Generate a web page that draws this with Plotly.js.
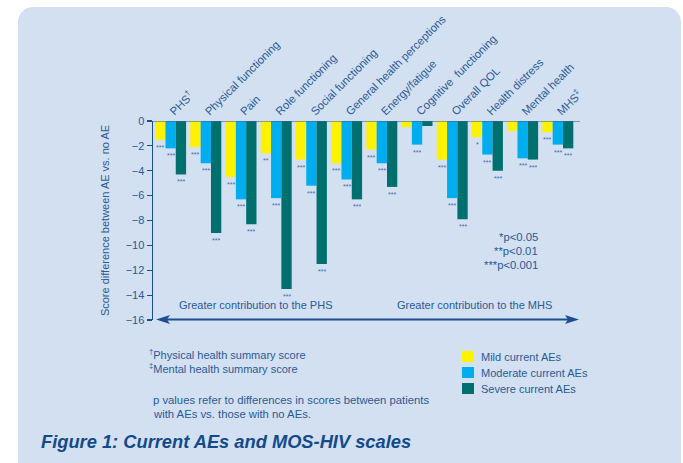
<!DOCTYPE html>
<html>
<head>
<meta charset="utf-8">
<script src="https://cdn.plot.ly/plotly-3.0.1.min.js"></script>
<style>
  html, body { margin: 0; padding: 0; background: #ffffff; }
  #wrap { position: relative; width: 683px; height: 463px; overflow: hidden; }
  #bg { position: absolute; left: 18px; top: 7px; width: 663px; height: 470px;
        background: #d3e0f1; border-radius: 15px; }
  #chart { position: absolute; left: 0; top: 0; width: 683px; height: 463px; }
</style>
</head>
<body>
<div id="wrap">
  <div id="bg"></div>
  <div id="chart"></div>
</div>
<script>
// ---- data ----
const categories = ["PHS<sup>†</sup>", "Physical functioning", "Pain", "Role functioning",
  "Social functioning", "General health perceptions", "Energy/fatigue",
  "Cognitive  functioning", "Overall QOL", "Health distress", "Mental health", "MHS<sup>‡</sup>"];
const seriesNames = ["Mild current AEs", "Moderate current AEs", "Severe current AEs"];
const mild     = [-1.5, -2.1, -4.5, -2.6, -3.1, -3.4, -2.3, -0.5, -3.1, -1.3, -0.8, -0.9];
const moderate = [-2.2, -3.4, -6.3, -6.2, -5.2, -4.7, -3.4, -1.9, -6.2, -2.7, -3.0, -1.9];
const severe   = [-4.3, -9.0, -8.3, -13.5, -11.5, -6.3, -5.3, -0.4, -7.9, -4.0, -3.1, -2.2];
const sigMild     = ["***", "***", "***", "**", "***", "***", "***", "", "***", "*", "", "***"];
const sigModerate = ["***", "***", "***", "***", "***", "***", "***", "***", "***", "***", "***", "***"];
const sigSevere   = ["***", "***", "***", "***", "***", "***", "***", "", "***", "***", "***", "***"];
const yTicks = [0, -2, -4, -6, -8, -10, -12, -14, -16];
const footnotes = ["<sup>†</sup>Physical health summary score", "<sup>‡</sup>Mental health summary score"];
const pNote = ["p values refer to differences in scores between patients", "with AEs vs. those with no AEs."];
const pLegend = ["*p<0.05", "**p<0.01", "***p<0.001"];
const zoneLabels = ["Greater contribution to the PHS", "Greater contribution to the MHS"];
const figTitle = "Figure 1: Current AEs and MOS-HIV scales";

// ---- styling ----
const colors = ["#fff200", "#00aeef", "#00706e"];
const txt = "#2a5a98";
const dark = "#1d4f8f";
const FONT = "Liberation Sans, Arial, sans-serif";

const W = 683, H = 463, ML = 153, MR = 103, MT = 121, MB = 143;
const PW = W - ML - MR, PH = H - MT - MB;
const px = v => (v - ML) / PW;
const py = v => (H - MB - v) / PH;
const XRANGE = [-0.5, 11.63];
const BARGAP = 0.12;

const vals = [mild, moderate, severe];
const sigs = [sigMild, sigModerate, sigSevere];
const xIdx = categories.map((c, i) => i);

const traces = vals.map((v, k) => ({
  type: "bar",
  name: seriesNames[k],
  x: xIdx,
  y: v,
  marker: { color: colors[k], line: { width: 0 } },
  hoverinfo: "skip",
  showlegend: false
}));

const annotations = [];
const shapes = [];

// significance marks under each bar (offset within the group by bar width)
const catPx = PW / (XRANGE[1] - XRANGE[0]);
const barPx = catPx * (1 - BARGAP) / 3;
sigs.forEach((arr, k) => arr.forEach((s, i) => {
  if (!s) return;
  annotations.push({
    xref: "x", yref: "y", x: xIdx[i], y: vals[k][i], xshift: (k - 1) * barPx, yshift: -2,
    xanchor: "center", yanchor: "top", showarrow: false, text: s,
    font: { size: 7, color: "#3d6fae", family: FONT }
  });
}));

footnotes.forEach((t, i) => annotations.push({
  xref: "paper", yref: "paper", x: px(147), y: py(354 + i * 13.5),
  xanchor: "left", yanchor: "middle", showarrow: false, text: t,
  font: { size: 11, color: txt, family: FONT }
}));
pNote.forEach((t, i) => annotations.push({
  xref: "paper", yref: "paper", x: px(151), y: py(400 + i * 13.5),
  xanchor: "left", yanchor: "middle", showarrow: false, text: t,
  font: { size: 11.3, color: txt, family: FONT }
}));
pLegend.forEach((t, i) => annotations.push({
  xref: "paper", yref: "paper", x: px(540), y: py(237 + i * 14),
  xanchor: "right", yanchor: "middle", showarrow: false, text: t,
  font: { size: 11.3, color: txt, family: FONT }
}));
// custom legend (swatches + names)
seriesNames.forEach((n, k) => {
  const top = 351 + k * 16;
  shapes.push({
    type: "rect", xref: "paper", yref: "paper", x0: px(462), x1: px(474), y0: py(top + 11), y1: py(top),
    fillcolor: colors[k], line: { width: 0 }, layer: "above"
  });
  annotations.push({
    xref: "paper", yref: "paper", x: px(479), y: py(top + 5.5), xanchor: "left", yanchor: "middle",
    showarrow: false, text: n, font: { size: 11, color: txt, family: FONT }
  });
});
annotations.push({
  xref: "paper", yref: "paper", x: px(255), y: py(305), xanchor: "center", yanchor: "middle",
  showarrow: false, text: zoneLabels[0], font: { size: 11, color: txt, family: FONT }
});
annotations.push({
  xref: "paper", yref: "paper", x: px(474), y: py(305), xanchor: "center", yanchor: "middle",
  showarrow: false, text: zoneLabels[1], font: { size: 11, color: txt, family: FONT }
});
// double arrow (line + two arrowheads)
const ay = 319.5;
shapes.push({
  type: "line", xref: "paper", yref: "paper", x0: px(166), x1: px(569), y0: py(ay), y1: py(ay),
  line: { color: dark, width: 2 }, layer: "above"
});
shapes.push({
  type: "path", xref: "paper", yref: "paper", layer: "above",
  path: `M${px(156)},${py(ay)} L${px(170)},${py(ay - 4.5)} L${px(167)},${py(ay)} L${px(170)},${py(ay + 4.5)} Z`,
  fillcolor: dark, line: { width: 0 }
});
shapes.push({
  type: "path", xref: "paper", yref: "paper", layer: "above",
  path: `M${px(579)},${py(ay)} L${px(565)},${py(ay - 4.5)} L${px(568)},${py(ay)} L${px(565)},${py(ay + 4.5)} Z`,
  fillcolor: dark, line: { width: 0 }
});
annotations.push({
  xref: "paper", yref: "paper", x: px(39), y: py(441), xanchor: "left", yanchor: "middle",
  showarrow: false, text: "<b><i>" + figTitle + "</i></b>",
  font: { size: 18.3, color: "#124a8c", family: FONT }
});
shapes.push({
  type: "line", xref: "paper", yref: "y", x0: 0, x1: px(580), y0: 0, y1: 0, layer: "above",
  line: { color: "rgba(55,95,150,0.55)", width: 2 }
});

const layout = {
  width: W, height: H,
  margin: { l: ML, r: MR, t: MT, b: MB, pad: 0, autoexpand: false },
  paper_bgcolor: "rgba(0,0,0,0)",
  plot_bgcolor: "rgba(0,0,0,0)",
  barmode: "group",
  bargap: BARGAP,
  bargroupgap: 0,
  font: { family: FONT, color: txt, size: 11 },
  showlegend: false,
  xaxis: {
    side: "top", range: XRANGE, showgrid: false, zeroline: false, showline: false,
    ticks: "", tickmode: "array", tickvals: xIdx, ticktext: categories, tickangle: -45,
    tickfont: { size: 11.3, color: txt, family: FONT }, fixedrange: true, automargin: false
  },
  yaxis: {
    range: [-16, 0], showgrid: false, zeroline: false, showline: true, linecolor: dark, linewidth: 1.5,
    ticks: "outside", ticklen: 5, tickwidth: 1.2, tickcolor: dark,
    tickmode: "array", tickvals: yTicks, ticktext: yTicks.map(v => v === 0 ? "0" : "−" + Math.abs(v)),
    tickfont: { size: 11, color: txt, family: FONT },
    title: { text: "Score difference between AE vs. no AE", font: { size: 11, color: txt, family: FONT }, standoff: 14 },
    fixedrange: true, automargin: false
  },
  shapes: shapes,
  annotations: annotations
};

Plotly.newPlot("chart", traces, layout, { displayModeBar: false, staticPlot: true });
</script>
</body>
</html>
